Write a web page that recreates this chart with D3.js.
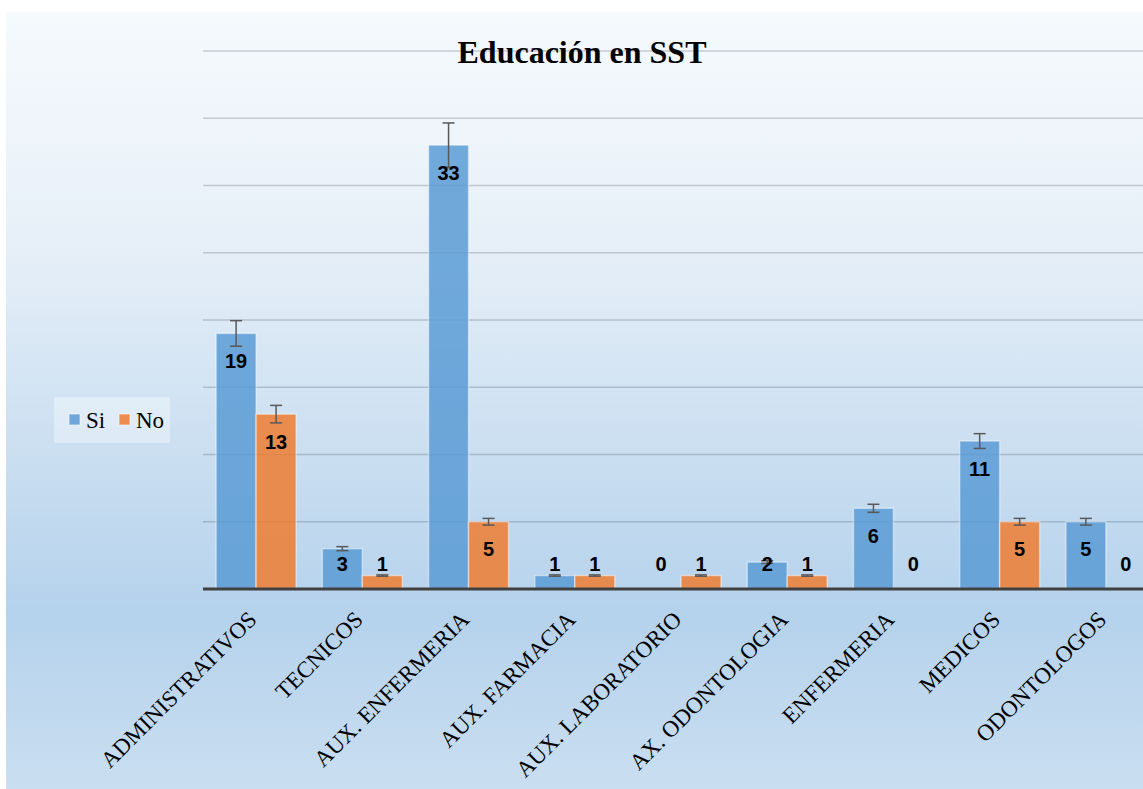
<!DOCTYPE html>
<html>
<head>
<meta charset="utf-8">
<script src="https://cdn.jsdelivr.net/npm/d3@7"></script>
<style>
  body { margin: 0; background: #fff; }
  svg { display: block; }
</style>
</head>
<body>
<svg id="root"></svg>
<script>
var categorias = ['ADMINISTRATIVOS', 'TECNICOS', 'AUX. ENFERMERIA', 'AUX. FARMACIA',
    'AUX. LABORATORIO', 'AX. ODONTOLOGIA', 'ENFERMERIA', 'MEDICOS', 'ODONTOLOGOS'];
var series = ['Si', 'No'];
var si = [19, 3, 33, 1, 0, 2, 6, 11, 5];
var no = [13, 1, 5, 1, 1, 1, 0, 5, 0];
var yTicks = [5, 10, 15, 20, 25, 30, 35, 40];
var errPct = 0.05; // barras de error en porcentaje
var colores = ['#5B9BD5', '#ED7D31'];

var width = 1143,
    height = 789,
    x0 = 203, x1 = 1159,
    base = 589, yTop = 51;

var root = d3.select('#root')
    .attr('width', width)
    .attr('height', height);

var defs = root.append('defs');
var grad = defs.append('linearGradient')
    .attr('id', 'bg')
    .attr('x1', 0).attr('y1', 0).attr('x2', 0).attr('y2', 1);
[['0%', '#F6FAFD'], ['30%', '#E6EFF8'], ['55%', '#CBDFF1'], ['76%', '#B5D2EC'], ['100%', '#CBDFF1']]
    .forEach(function(s) {
        grad.append('stop').attr('offset', s[0]).attr('stop-color', s[1]);
    });

root.append('rect')
    .attr('x', 6).attr('y', 12)
    .attr('width', width).attr('height', height)
    .attr('fill', 'url(#bg)');

var datos = categorias.map(function(c, i) {
    return { cat: c, vals: [si[i], no[i]] };
});

var x = d3.scaleBand()
    .domain(categorias)
    .range([x0, x1])
    .paddingInner(0.247)
    .paddingOuter(0.1235);
var xs = d3.scaleBand()
    .domain(series)
    .range([0, x.bandwidth()]);
var y = d3.scaleLinear()
    .domain([0, 40])
    .range([base, yTop]);

// lineas de cuadricula
root.append('g').selectAll('line')
    .data(yTicks)
    .enter()
        .append('line')
        .attr('x1', x0).attr('x2', width)
        .attr('y1', function(d) { return y(d); })
        .attr('y2', function(d) { return y(d); })
        .attr('stroke', 'rgba(80,90,100,0.28)')
        .attr('stroke-width', 1.5);

// barras
var grupo = root.append('g').selectAll('g')
    .data(datos)
    .enter()
        .append('g')
        .attr('transform', function(d) { return 'translate(' + x(d.cat) + ',0)'; });

var items = grupo.selectAll('g')
    .data(function(d) {
        return d.vals.map(function(v, j) { return { s: series[j], v: v, j: j }; });
    })
    .enter()
        .append('g');

items.append('rect')
    .attr('x', function(d) { return xs(d.s); })
    .attr('y', function(d) { return y(d.v); })
    .attr('width', xs.bandwidth())
    .attr('height', function(d) { return base - y(d.v); })
    .attr('fill', function(d) { return colores[d.j]; })
    .attr('fill-opacity', 0.85)
    .attr('stroke', 'rgba(255,255,255,0.45)')
    .attr('stroke-width', 1.5);

// barras de error
var conError = items.filter(function(d) { return d.v > 0; });
conError.append('line')
    .attr('x1', function(d) { return xs(d.s) + xs.bandwidth() / 2; })
    .attr('x2', function(d) { return xs(d.s) + xs.bandwidth() / 2; })
    .attr('y1', function(d) { return y(d.v * (1 + errPct)); })
    .attr('y2', function(d) { return y(d.v * (1 - errPct)); })
    .attr('stroke', '#595959')
    .attr('stroke-width', 1.5);
[1 + errPct, 1 - errPct].forEach(function(k) {
    conError.append('line')
        .attr('x1', function(d) { return xs(d.s) + xs.bandwidth() / 2 - 6; })
        .attr('x2', function(d) { return xs(d.s) + xs.bandwidth() / 2 + 6; })
        .attr('y1', function(d) { return y(d.v * k); })
        .attr('y2', function(d) { return y(d.v * k); })
        .attr('stroke', '#595959')
        .attr('stroke-width', 1.5);
});

// etiquetas de datos
items.append('text')
    .attr('x', function(d) { return xs(d.s) + xs.bandwidth() / 2; })
    .attr('y', function(d) { return Math.min(y(d.v) + 27, base - 26) + 7.5; })
    .attr('text-anchor', 'middle')
    .attr('font-family', "'Liberation Sans', Arial, sans-serif")
    .attr('font-weight', 'bold')
    .attr('font-size', '20px')
    .attr('fill', '#000')
    .text(function(d) { return d.v; });

// eje x
root.append('line')
    .attr('x1', x0).attr('x2', width)
    .attr('y1', base).attr('y2', base)
    .attr('stroke', '#404040')
    .attr('stroke-width', 3);

root.append('g').selectAll('text')
    .data(categorias)
    .enter()
        .append('text')
        .attr('transform', function(d) {
            return 'translate(' + (x(d) + x.bandwidth() / 2 + 2) + ',621) rotate(-45)';
        })
        .attr('text-anchor', 'end')
        .attr('font-family', "'Liberation Serif', 'Times New Roman', serif")
        .attr('font-size', '23px')
        .attr('fill', '#000')
        .text(function(d) { return d; });

// titulo
root.append('text')
    .attr('x', 582).attr('y', 63)
    .attr('text-anchor', 'middle')
    .attr('font-family', "'Liberation Serif', 'Times New Roman', serif")
    .attr('font-weight', 'bold')
    .attr('font-size', '32px')
    .text('Educación en SST');

// leyenda
var ley = root.append('g');
ley.append('rect')
    .attr('x', 54).attr('y', 397)
    .attr('width', 116).attr('height', 46)
    .attr('fill', 'rgba(255,255,255,0.35)');
var lx = [69, 119];
series.forEach(function(s, i) {
    ley.append('rect')
        .attr('x', lx[i]).attr('y', 414)
        .attr('width', 11).attr('height', 11)
        .attr('fill', colores[i])
        .attr('fill-opacity', 0.85)
        .attr('stroke', 'rgba(255,255,255,0.6)');
    ley.append('text')
        .attr('x', lx[i] + 17).attr('y', 428)
        .attr('font-family', "'Liberation Serif', 'Times New Roman', serif")
        .attr('font-size', '23px')
        .text(s);
});
</script>
</body>
</html>
